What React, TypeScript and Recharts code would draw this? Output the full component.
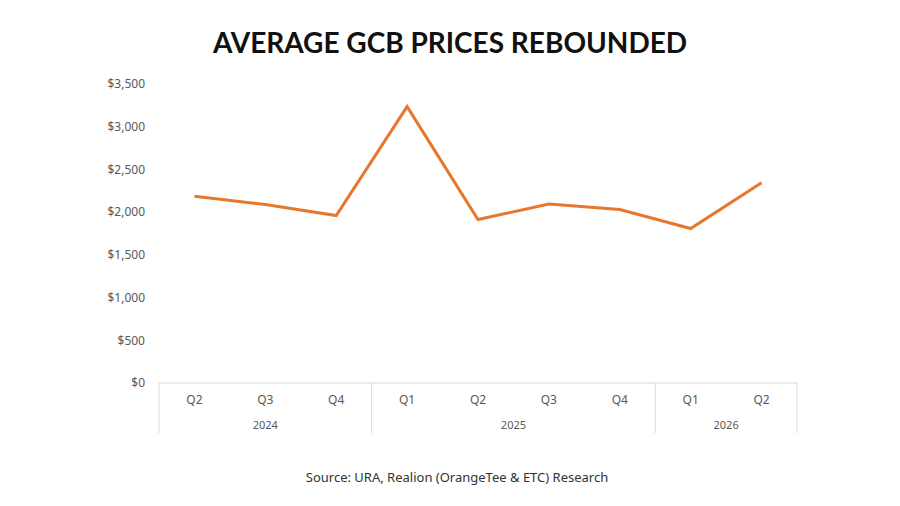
import React from "react";
import { LineChart, Line, XAxis, YAxis } from "recharts";

const quarters = ["Q2", "Q3", "Q4", "Q1", "Q2", "Q3", "Q4", "Q1", "Q2"];
const years = ["2024", "2024", "2024", "2025", "2025", "2025", "2025", "2026", "2026"];
const prices = [2185, 2090, 1960, 3235, 1913, 2095, 2030, 1808, 2345];
const yTicks = [0, 500, 1000, 1500, 2000, 2500, 3000, 3500];

const data = quarters.map((q, i) => ({ id: `${years[i]}-${q}`, q, year: years[i], price: prices[i] }));

const fmt = (v: number) => "$" + v.toLocaleString("en-US");

const LINE_GRAY = "#d9d9d9";
const TEXT_GRAY = "#595959";

const QuarterTick = (props: any) => {
  const { x, y, payload } = props;
  const i = payload.index;
  const off = payload.offset;
  const d = data[i];
  const isFirst = i === 0 || data[i - 1].year !== d.year;
  const isLast = i === data.length - 1;
  let n = 0;
  if (isFirst) {
    for (let k = i; k < data.length && data[k].year === d.year; k++) n++;
  }
  const top = y - 8;
  const bottom = y + 42;
  return (
    <g>
      <text x={x} y={y + 13} textAnchor="middle" fill={TEXT_GRAY} fontSize={12} fontFamily="Noto Sans">
        {d.q}
      </text>
      {isFirst && (
        <>
          <line x1={x - off} x2={x - off} y1={top} y2={bottom} stroke={LINE_GRAY} strokeWidth={1} />
          <text x={x - off + n * off} y={y + 38} textAnchor="middle" fill={TEXT_GRAY} fontSize={11} fontFamily="Noto Sans">
            {d.year}
          </text>
        </>
      )}
      {isLast && <line x1={x + off} x2={x + off} y1={top} y2={bottom} stroke={LINE_GRAY} strokeWidth={1} />}
    </g>
  );
};

export default function App() {
  return (
    <div style={{ position: "absolute", left: 0, top: 0, width: 900, height: 506, background: "#fff" }}>
      <div
        style={{
          position: "absolute",
          left: 0,
          top: 22,
          width: 900,
          textAlign: "center",
          fontFamily: "Lato",
          fontWeight: 700,
          fontSize: 28,
          color: "#111",
          lineHeight: "40px",
        }}
      >
        AVERAGE GCB PRICES REBOUNDED
      </div>
      <LineChart width={900} height={506} data={data} margin={{ top: 84, right: 103, bottom: 63, left: 99 }}>
        <XAxis
          dataKey="id"
          scale="band"
          axisLine={{ stroke: LINE_GRAY }}
          tickLine={false}
          interval={0}
          tick={<QuarterTick />}
          height={60}
        />
        <YAxis
          width={60}
          domain={[0, 3500]}
          ticks={yTicks}
          tickFormatter={fmt}
          axisLine={false}
          tickLine={false}
          tickMargin={8}
          tick={{ fill: TEXT_GRAY, fontSize: 12, fontFamily: "Noto Sans" }}
        />
        <Line
          type="linear"
          dataKey="price"
          stroke="#E8772E"
          strokeWidth={3}
          dot={false}
          isAnimationActive={false}
        />
      </LineChart>
      <div
        style={{
          position: "absolute",
          left: 0,
          top: 468,
          width: 914,
          textAlign: "center",
          fontFamily: "Noto Sans",
          fontSize: 13,
          color: "#333",
        }}
      >
        Source: URA, Realion (OrangeTee &amp; ETC) Research
      </div>
    </div>
  );
}
